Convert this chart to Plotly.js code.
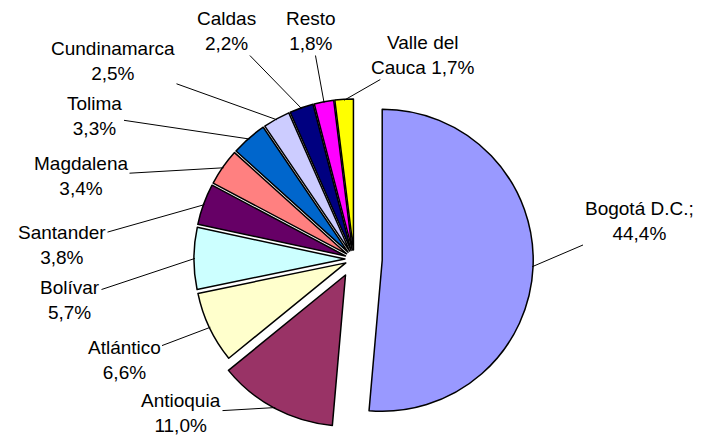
<!DOCTYPE html>
<html><head><meta charset="utf-8">
<script src="https://cdn.plot.ly/plotly-3.0.1.min.js"></script>
<style>html,body{margin:0;padding:0;background:#fff;}#chart{width:711px;height:441px;}</style>
</head><body><div id="chart"></div>
<script>
// ---- data ----
const departments = ['Bogotá D.C.','Antioquia','Atlántico','Bolívar','Santander','Magdalena','Tolima','Cundinamarca','Caldas','Resto','Valle del Cauca'];
const shares = [44.4, 11.0, 6.6, 5.7, 3.8, 3.4, 3.3, 2.5, 2.2, 1.8, 1.7];
const labelPrefix = ['Bogotá D.C.;<br>','Antioquia<br>','Atlántico<br>','Bolívar<br>','Santander<br>','Magdalena<br>','Tolima<br>','Cundinamarca<br>','Caldas<br>','Resto<br>','Valle del<br>Cauca '];
const sliceColors = ['#9999FF','#993366','#FFFFCC','#CCFFFF','#660066','#FF8080','#0066CC','#CCCCFF','#000080','#FF00FF','#FFFF00'];
const pulls = [0.187, 0.12, 0.06, 0.06, 0.06, 0.06, 0.06, 0.06, 0.06, 0.06, 0.06];
// label block centres (pixels)
const labelPos = [[639,221],[181,413],[124,360],[70,300],[62,245],[81,176],[95,116],[113,61],[226,31],[311,31],[423,55]];

// ---- layout geometry ----
const W = 711, H = 441;
const cx = 354, cy = 259, r = 151;
const maxPull = Math.max(...pulls);
const half = r * (1 + maxPull);
const domX = [(cx - half) / W, (cx + half) / W];
const domY = [1 - (cy + half) / H, 1 - (cy - half) / H];

const fmt = v => v.toFixed(1).replace('.', ',') + '%';
const total = shares.reduce((a, b) => a + b, 0);

const annotations = [];
let cum = 0;
shares.forEach((v, i) => {
  const th = 2 * Math.PI * (cum + v / 2) / total;
  cum += v;
  const rr = r * (1 + pulls[i]) - 1;
  const tx = cx + rr * Math.sin(th);
  const ty = cy - rr * Math.cos(th);
  annotations.push({
    xref: 'paper', yref: 'paper',
    x: tx / W, y: 1 - ty / H,
    ax: labelPos[i][0] - tx, ay: labelPos[i][1] - ty,
    text: labelPrefix[i] + fmt(v),
    showarrow: true, arrowhead: 0, arrowwidth: 1, arrowcolor: '#000', standoff: 0,
    font: {family: '"Liberation Sans", Arial, sans-serif', size: 19, color: '#000'},
    align: 'center'
  });
});

const trace = {
  type: 'pie',
  labels: departments,
  values: shares,
  sort: false,
  direction: 'clockwise',
  rotation: 0,
  pull: pulls,
  textinfo: 'none',
  hoverinfo: 'label+percent',
  marker: {colors: sliceColors, line: {color: '#000', width: 1.5}},
  domain: {x: domX, y: domY}
};

Plotly.newPlot('chart', [trace], {
  width: W, height: H,
  margin: {l: 0, r: 0, t: 0, b: 0},
  showlegend: false,
  paper_bgcolor: '#fff',
  font: {family: '"Liberation Sans", Arial, sans-serif', size: 19, color: '#000'},
  annotations: annotations
}, {displayModeBar: false, staticPlot: true});
</script>
</body></html>
